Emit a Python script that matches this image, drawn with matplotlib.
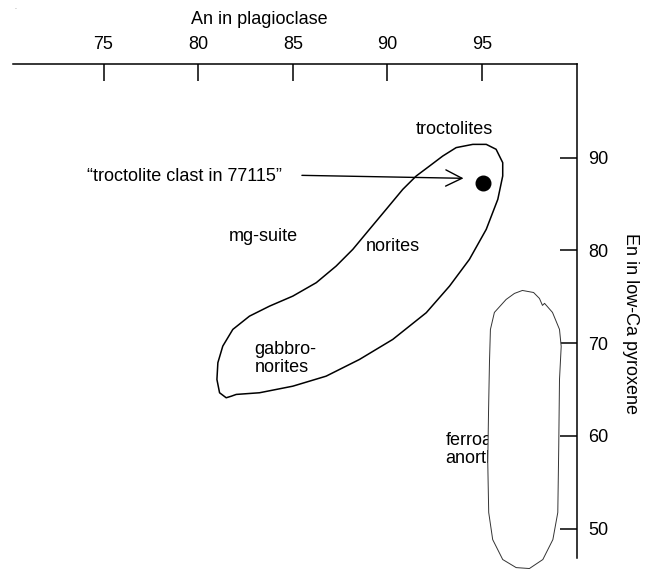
import matplotlib.pyplot as plt
from matplotlib.patches import Polygon

plt.rcParams['font.family'] = ['Liberation Sans', 'DejaVu Sans']
plt.rcParams['font.size'] = 13

# axis ticks
x_ticks = [75, 80, 85, 90, 95]
y_ticks = [50, 60, 70, 80, 90]

# outline of the mg-suite field (An, En), traced clockwise from the top
mg_an = [94.51, 95.22, 95.74, 96.09, 96.09, 95.83, 95.22, 94.33, 93.28, 92.05,
         90.28, 88.52, 86.76, 85.00, 83.24, 82.01, 81.75, 81.48, 81.13, 80.99,
         81.04, 81.30, 81.83, 82.71, 83.77, 85.00, 86.24, 87.29, 88.17, 89.05,
         89.93, 90.81, 91.52, 92.22, 92.92, 93.63]
mg_en = [91.43, 91.43, 90.90, 89.46, 88.02, 85.50, 82.27, 79.03, 76.15, 73.28,
         70.40, 68.24, 66.44, 65.36, 64.65, 64.47, 64.28, 64.11, 64.65, 66.08,
         67.89, 69.68, 71.48, 72.91, 73.99, 75.07, 76.52, 78.31, 80.11, 82.27,
         84.42, 86.58, 88.02, 89.09, 90.17, 91.08]

# outline of the ferroan anorthosite field
fan_an = [97.13, 97.72, 98.03, 98.19, 98.30, 98.72, 99.09, 99.18, 99.09, 99.05,
          99.00, 98.74, 98.21, 97.50, 96.80, 96.09, 95.56, 95.35, 95.30, 95.34,
          95.39, 95.44, 95.65, 96.27, 96.71]
fan_en = [75.68, 75.46, 74.82, 74.07, 74.29, 73.31, 71.48, 69.64, 66.08, 58.86,
          51.74, 48.82, 46.67, 45.70, 45.80, 46.67, 48.82, 51.74, 57.13, 62.52,
          67.92, 71.47, 73.31, 74.71, 75.36]

# troctolite clast in 77115
clast_an = 95.04
clast_en = 87.3

fig = plt.figure(figsize=(6.48, 5.71), dpi=100)
ax = fig.add_axes([0.0196, 0.0222, 0.8704, 0.8658])
ax.set_xlim(70.2, 100)
ax.set_ylim(46.8, 100.1)

for s in ['left', 'bottom']:
    ax.spines[s].set_visible(False)
for s in ['top', 'right']:
    ax.spines[s].set_linewidth(1.1)

ax.xaxis.tick_top()
ax.yaxis.tick_right()
ax.set_xticks(x_ticks)
ax.set_yticks(y_ticks)
ax.tick_params(axis='both', direction='in', length=12.5, width=1.1, pad=8,
               labelsize=13)

ax.set_xlabel('An in plagioclase')
ax.xaxis.set_label_position('top')
ax.xaxis.set_label_coords(0.4376, 1.089)
ax.xaxis.label.set_va('center')

ax.set_ylabel('En in low-Ca pyroxene', rotation=-90)
ax.yaxis.set_label_position('right')
ax.yaxis.set_label_coords(1.096, 0.476)
ax.yaxis.label.set_va('center')

# mg-suite field
ax.add_patch(Polygon(list(zip(mg_an, mg_en)), closed=True, fill=False,
                     edgecolor='black', linewidth=1.1, joinstyle='round',
                     clip_on=False, zorder=3))

# ferroan anorthosites, label hidden partly behind the white field
ax.text(93.07, 58.53, 'ferroan\nanorthosites', ha='left', va='center',
        linespacing=1.15, zorder=2)
ax.add_patch(Polygon(list(zip(fan_an, fan_en)), closed=True, facecolor='white',
                     edgecolor='#333333', linewidth=0.7, joinstyle='round',
                     clip_on=False, zorder=4))

ax.plot([clast_an], [clast_en], 'o', color='black', markersize=10.5, zorder=5)
ax.annotate('', xy=(94.02, 87.77), xytext=(85.48, 88.09),
            arrowprops=dict(arrowstyle='->,head_length=0.9,head_width=0.45',
                            color='black', lw=1.0, shrinkA=0, shrinkB=0))
ax.text(74.1, 88.0, '\u201ctroctolite clast in 77115\u201d', ha='left', va='center')

ax.text(93.54, 93.05, 'troctolites', ha='center', va='center')
ax.text(83.45, 81.48, 'mg-suite', ha='center', va='center')
ax.text(90.28, 80.46, 'norites', ha='center', va='center')
ax.text(82.98, 68.35, 'gabbro-\nnorites', ha='left', va='center', linespacing=1.05)

fig.text(0.022, 0.985, '.', fontsize=5, color='gray')

fig.savefig('out.png', dpi=100)
